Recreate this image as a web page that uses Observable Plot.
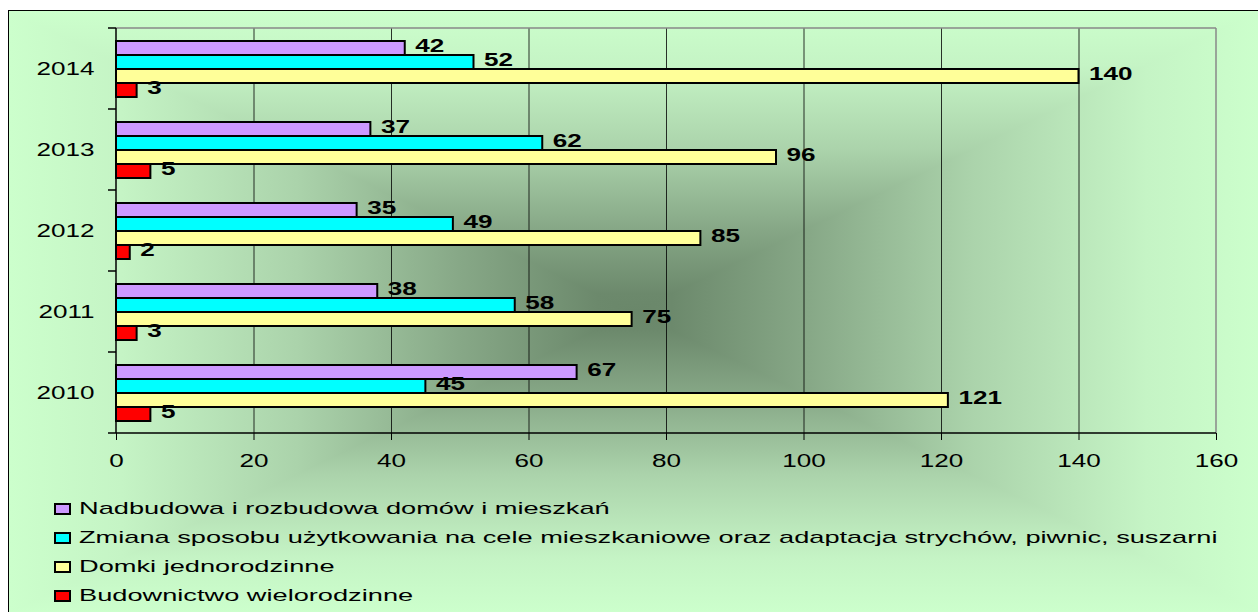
<!DOCTYPE html>
<html>
<head>
<meta charset="utf-8">
<script src="https://cdn.jsdelivr.net/npm/d3@7"></script>
<script src="https://cdn.jsdelivr.net/npm/@observablehq/plot@0.6"></script>
<style>
  html, body { margin: 0; padding: 0; background: #fff; width: 1258px; height: 612px; overflow: hidden; }
  #bg { position: absolute; left: 8px; top: 10px; width: 1252px; height: 604px; border: 1px solid #000; box-sizing: border-box; overflow: hidden; }
  #bg .tri { position: absolute; left: 0; top: 0; width: 100%; height: 100%; }
  #chart { position: absolute; left: 0; top: 0; }
  #legend { position: absolute; left: 54px; top: 494px; font-family: "Liberation Sans", Arial, sans-serif; font-size: 17px; color: #000; }
  #legend .row { display: flex; align-items: center; height: 29px; white-space: nowrap; }
  #legend .sw { width: 13px; height: 8px; border: 2px solid #000; margin-right: 8px; flex: none; }
  #legend span { display: inline-block; transform: scaleX(1.6); transform-origin: left center; }
</style>
</head>
<body>
<div id="bg"></div>
<div id="chart"></div>
<div id="legend"></div>
<script>
const years = ["2014", "2013", "2012", "2011", "2010"];
const seriesNames = [
  "Nadbudowa i rozbudowa domów i mieszkań",
  "Zmiana sposobu użytkowania na cele mieszkaniowe oraz adaptacja strychów, piwnic, suszarni",
  "Domki jednorodzinne",
  "Budownictwo wielorodzinne"
];
const nadbudowa = [42, 37, 35, 38, 67];
const zmiana = [52, 62, 49, 58, 45];
const domki = [140, 96, 85, 75, 121];
const wielorodzinne = [3, 5, 2, 3, 5];
const seriesColors = ["#cc99ff", "#00ffff", "#ffff99", "#ff0000"];
const xTicks = [0, 20, 40, 60, 80, 100, 120, 140, 160];

const seriesValues = [nadbudowa, zmiana, domki, wielorodzinne];
const data = years.flatMap((year, i) =>
  seriesNames.map((s, j) => ({ year, series: s, value: seriesValues[j][i] }))
);

// background: rectangular "from centre" gradient (horizontal layer below, top/bottom triangles above)
const stops = "#ccffcc 0%, #c5f4c5 9%, #abd3ab 23%, #87a887 36%, #6c896c 47%, #6a876a 50%, #6c896c 53%, #87a887 64%, #abd3ab 77%, #c5f4c5 91%, #ccffcc 100%";
const layers = [
  ["none", "to right"],
  ["polygon(0 0, 100% 0, 50% 50%, 0 100%, 100% 100%, 50% 50%)", "to bottom"]
];
const bgEl = document.getElementById("bg");
for (const [clip, dir] of layers) {
  const d = document.createElement("div");
  d.className = "tri";
  d.style.clipPath = clip;
  d.style.background = `linear-gradient(${dir}, ${stops})`;
  bgEl.appendChild(d);
}

const chart = Plot.plot({
  width: 1258,
  height: 480,
  marginLeft: 116,
  marginRight: 42,
  marginTop: 27,
  marginBottom: 47,
  x: { domain: [0, 160] },
  y: { domain: seriesNames, axis: null, paddingInner: 0, paddingOuter: 0.76 },
  fy: { domain: years, padding: 0, label: null },
  color: { domain: seriesNames, range: seriesColors },
  style: { fontFamily: "'Liberation Sans', Arial, sans-serif", fontSize: "18px", color: "#000", background: "transparent", overflow: "visible" },
  marks: [
    Plot.gridX(xTicks.slice(1, -1), { stroke: "#000", strokeOpacity: 0.8 }),
    Plot.barX(data, { x: "value", y: "series", fy: "year", fill: "series", stroke: "#000", strokeWidth: 2 }),
    Plot.text(data, {
      x: "value", y: "series", fy: "year", text: d => String(d.value),
      dx: 10, dy: -2, textAnchor: "start", fontWeight: "bold", fontSize: 18, fill: "#000"
    }),
    Plot.axisFy({ anchor: "left", tickSize: 0, tickPadding: 22, fontSize: 18, label: null }),
    Plot.axisX(xTicks, { anchor: "bottom", tickSize: 7, tickPadding: 14, fontSize: 18, label: null })
  ]
});
document.getElementById("chart").appendChild(chart);

// the reference's lettering is stretched horizontally; widen each text about its anchor
d3.select(chart).selectAll("text").each(function () {
  const x = +(this.getAttribute("x") || 0);
  const t = this.getAttribute("transform") || "";
  this.setAttribute("transform", `${t} translate(${x},0) scale(1.45,1) translate(${-x},0)`);
});

// plot-area border, axis lines and category boundary ticks, from the library's scales
const xs = chart.scale("x"), fys = chart.scale("fy");
const xLeft = xs.apply(0), xRight = xs.apply(xTicks[xTicks.length - 1]);
const yTop = fys.apply(years[0]);
const yBottom = fys.apply(years[years.length - 1]) + fys.bandwidth;
const g = d3.select(chart).append("g").attr("fill", "none");
const line = (a, b, c, d, col) => g.append("line").attr("x1", a).attr("y1", b).attr("x2", c).attr("y2", d).attr("stroke", col).attr("stroke-width", 1.5);
line(xLeft, yTop, xRight, yTop, "#888");
line(xRight, yTop, xRight, yBottom, "#888");
line(xLeft, yTop, xLeft, yBottom, "#000");
line(xLeft, yBottom, xRight, yBottom, "#000");
const bounds = years.map(y => fys.apply(y)).concat([yBottom]);
for (const b of bounds) line(xLeft - 8, b, xLeft, b, "#000");

// legend
const legend = d3.select("#legend");
seriesNames.forEach((s, i) => {
  const row = legend.append("div").attr("class", "row");
  row.append("div").attr("class", "sw").style("background", seriesColors[i]);
  row.append("span").text(s);
});
</script>
</body>
</html>
